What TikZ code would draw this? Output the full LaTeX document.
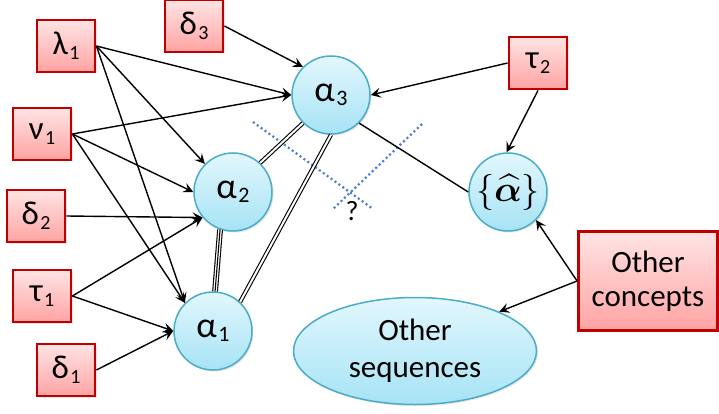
\documentclass[tikz,border=0pt]{standalone}
\usepackage{fontspec}
\setmainfont{Carlito}
\usepackage{amsmath,bm}
\usetikzlibrary{arrows.meta,shapes.geometric,shadows}
\definecolor{boxred}{HTML}{C00000}
\definecolor{boxtop}{HTML}{FFE4E4}
\definecolor{boxbot}{HTML}{FFA3A3}
\definecolor{cyanedge}{HTML}{4BACC6}
\definecolor{cirtop}{HTML}{E2F7FD}
\definecolor{cirbot}{HTML}{A6E3F5}
\definecolor{dotblue}{HTML}{4A7CC8}
\newcommand\lsub[1]{\hspace{1.5pt}\raisebox{-5pt}{\fontsize{20}{20}\selectfont #1}}
\newcommand\csub[1]{\hspace{1.5pt}\raisebox{-4.5pt}{\fontsize{22}{22}\selectfont #1}}
\tikzset{
 concept/.style={draw=boxred, line width=2.8pt, top color=boxtop, bottom color=boxbot,
   minimum width=58pt, minimum height=52pt, inner sep=0pt, font=\fontsize{33}{33}\selectfont,
   drop shadow={opacity=0.2, shadow xshift=1.5pt, shadow yshift=-1.5pt}},
 seqc/.style={circle, draw=cyanedge, line width=1.5pt, top color=cirtop, bottom color=cirbot,
   minimum size=78pt, inner sep=0pt, font=\fontsize{36}{36}\selectfont,
   drop shadow={opacity=0.2, shadow xshift=1.5pt, shadow yshift=-1.5pt}},
 arr/.style={-{Stealth[length=10pt,width=10pt,inset=4pt]}, line width=1.4pt},
 dbl/.style={double, double distance=2pt, line width=1.1pt},
 tpl/.style={double, double distance=3.6pt, line width=1.1pt},
 dots/.style={draw=dotblue, line width=2.2pt, dash pattern=on 2pt off 2.8pt},
}
\begin{document}
\begin{tikzpicture}[x=1pt,y=-1pt]
\useasboundingbox (0,0) rectangle (719,414);
% concept boxes
\node[concept] (L1) at (66,46) {λ\lsub{1}};
\node[concept] (D3) at (194,26) {δ\lsub{3}};
\node[concept] (N1) at (42,134) {ν\lsub{1}};
\node[concept] (D2) at (36,216) {δ\lsub{2}};
\node[concept] (T1) at (42,296) {τ\lsub{1}};
\node[concept] (D1) at (66,370) {δ\lsub{1}};
\node[concept] (T2) at (538,63) {τ\lsub{2}};
\node[concept, minimum width=139pt, minimum height=99pt, align=center, font=\fontsize{31}{34}\selectfont] (OC) at (648,281) {Other\\concepts};
% circles
\node[seqc] (A3) at (331,95) {α\csub{3}};
\node[seqc] (A2) at (233,192) {α\csub{2}};
\node[seqc] (A1) at (213,331) {α\csub{1}};
\node[seqc, font=\fontsize{24}{24}\selectfont] (AH) at (508,192) {\scalebox{1.45}{$\{\widehat{\boldsymbol{\alpha}}\}$}};
\node[ellipse, draw=cyanedge, line width=1.5pt, top color=cirtop, bottom color=cirbot,
   minimum width=243pt, minimum height=107pt, inner sep=0pt, align=center,
   font=\fontsize{31}{37}\selectfont,
   drop shadow={opacity=0.2, shadow xshift=1.5pt, shadow yshift=-1.5pt}] (OS) at (415,351) {Other\\sequences};
% dotted cross
\coordinate (p1) at (253,122); \coordinate (p2) at (373,209);
\coordinate (q1) at (422,124); \coordinate (q2) at (333,209);
\draw[dots] (p1) -- (p2);
\draw[dots] (q1) -- (q2);
\node[font=\fontsize{28}{28}\selectfont, inner sep=0pt] (Q) at (352,211) {?};
% arrows
\draw[arr] (L1.east) -- (A3.west);
\draw[arr] (L1.east) -- (A2.135);
\draw[arr] (L1.east) -- (A1.135);
\draw[arr] (N1.east) -- (A3.west);
\draw[arr] (N1.east) -- (A2.west);
\draw[arr] (N1.east) -- (A1.135);
\draw[arr] (D3.east) -- (A3.135);
\draw[arr] (D2.east) -- (A2.220);
\draw[arr] (T1.east) -- (A2.220);
\draw[arr] (T1.east) -- (A1.west);
\draw[arr] (D1.east) -- (A1.west);
\draw[arr] (T2.west) -- (A3.east);
\draw[arr] (T2.south) -- (AH.92);
\draw[arr] (OC.west) -- (AH.-45);
\draw[arr] (OC.west) -- (OS.25);
\draw[line width=1.4pt] (A3.-45) -- (AH.west);
% multi lines
\draw[dbl] (A3.225) -- (A2.47);
\draw[dbl] (A3.-90) -- (A1.47);
\draw[tpl] (A2.251) -- (A1.87);
\draw[line width=1.1pt] (A2.251) -- (A1.87);
\end{tikzpicture}
\end{document}
